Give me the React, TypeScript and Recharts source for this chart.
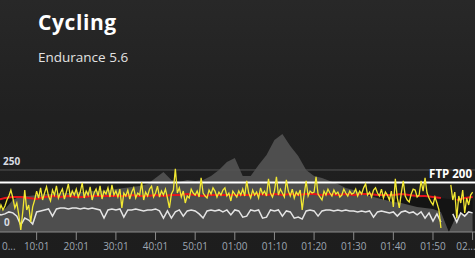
import { ComposedChart, Area, Line, XAxis, YAxis, ReferenceLine } from "recharts";

// power, one value every 30 s
const power = [
  97, 81, 109, 89, 105, 129, 145, 169, 137, 97, 117, 69, 8, 81, 169, 89, 109, 40, 101, 129,
  165, 137, 178, 129, 157, 182, 145, 125, 169, 149, 186, 137, 157, 173, 133, 161, 194, 141, 165, 149,
  173, 141, 161, 198, 137, 165, 149, 182, 129, 157, 173, 145, 186, 133, 165, 153, 178, 141, 190, 149,
  165, 141, 173, 97, 157, 145, 169, 133, 161, 178, 137, 157, 149, 200, 129, 161, 145, 173, 185, 141,
  157, 185, 141, 165, 149, 173, 137, 97, 153, 169, 255, 157, 178, 141, 165, 117, 145, 137, 173, 157,
  149, 165, 141, 218, 157, 145, 137, 169, 153, 178, 165, 141, 161, 149, 169, 178, 145, 157, 125, 165,
  153, 141, 165, 149, 173, 145, 206, 157, 137, 169, 149, 161, 137, 178, 153, 165, 145, 214, 157, 141,
  165, 222, 149, 173, 157, 141, 210, 165, 145, 173, 137, 161, 149, 169, 89, 153, 206, 145, 165, 157,
  161, 222, 153, 141, 129, 165, 149, 173, 157, 145, 169, 153, 161, 141, 149, 173, 157, 145, 165, 153,
  157, 173, 145, 165, 153, 178, 194, 149, 161, 141, 169, 178, 157, 145, 173, 137, 161, 149, 129, 165,
  101, 214, 137, 97, 157, 206, 145, 129, 121, 153, 173, 169, 141, 149, 206, 165, 218, 157, 137, 121,
  109, 141, 117, 89, 16, null, null, null, null, 190, 129, 161, 56, 145, 117, 169, 77, 137, 109, 149, 161,
];

// heart rate, one value per minute
const heartRate = [
  73, 69, 73, 81, 77, 64, 28, 56, 48, 32,
  81, 85, 89, 93, 64, 93, 97, 97, 93, 97,
  97, 93, 97, 93, 97, 93, 89, 56, 89, 93,
  89, 93, 60, 89, 89, 93, 89, 85, 89, 89,
  93, 85, 56, 85, 56, 81, 89, 64, 85, 89,
  85, 73, 56, 85, 89, 85, 89, 81, 89, 69,
  89, 85, 60, 64, 89, 85, 89, 56, 60, 89,
  85, 89, 64, 85, 81, 56, 60, 52, 85, 89,
  85, 64, 85, 89, 89, 85, 89, 85, 89, 85,
  85, 81, 85, 81, 85, 60, 81, 85, 81, 77,
  81, 64, 81, 85, 77, 81, 69, 81, 56, 77,
  44, 73, 40, null, null, 73, 40, 77, 64, 81, 77,
];

// smoothed power, every 2 min
const avgPower = [
  129, 137, 141, 141, 137, 133, 141, 145, 141, 145,
  141, 141, 145, 145, 145, 145, 145, 149, 145, 145,
  149, 145, 149, 149, 153, 149, 145, 149, 149, 149,
  149, 149, 149, 153, 149, 153, 149, 153, 149, 153,
  153, 149, 153, 149, 153, 149, 153, 153, 149, 149,
  149, 153, 149, 145, 145, 141, 137, null, 129, 137, 141,
];

// elevation profile, every 2 min
const elevation = [
  89, 93, 129, 145, 145, 149, 153, 153, 157, 157,
  161, 161, 165, 165, 169, 173, 177, 181, 185, 193,
  218, 242, 210, 202, 210, 206, 210, 226, 250, 282,
  298, 226, 226, 270, 310, 371, 395, 347, 306, 250,
  226, 218, 206, 193, 177, 169, 157, 145, 137, 129,
  121, 117, 109, 101, 97, 93, 81, 0, 69, 73, 77,
];

// cadence shade, every 2 min
const cadence = [
  141, 141, 137, 137, 137, 137, 137, 141, 141, 141,
  141, 141, 141, 141, 141, 141, 141, 145, 141, 141,
  145, 141, 145, 145, 145, 145, 141, 145, 145, 145,
  145, 145, 145, 145, 145, 145, 145, 145, 145, 145,
  145, 145, 145, 145, 141, 141, 141, 141, 137, 137,
  133, 137, 141, 137, 141, 141, 137, 133, 137, 133, 137,
];

const tickMinutes = [0, 10, 20, 30, 40, 50, 60, 70, 80, 90, 100, 110, 120];
const tickLabels = ["0...", "10:01", "20:01", "30:01", "40:01", "50:01", "01:00", "01:10", "01:20", "01:30", "01:40", "01:50", "02..."];

const FTP = 200;
const GRID_TOP = 250;

const toPoints = (values: (number | null)[], step: number) =>
  values.map((v, i) => ({ t: i * step, v }));

const font = "'Open Sans', sans-serif";

function TimeTick(props: any) {
  const { x, y, payload } = props;
  const i = tickMinutes.indexOf(payload.value);
  const last = tickMinutes.length - 1;
  const anchor = i === 0 ? "start" : i === last ? "end" : "middle";
  const dx = i === 0 ? 5 : i === last ? 3 : 0;
  return (
    <text x={x + dx} y={y} dy={8} textAnchor={anchor} fill="#9ea7b3" fontSize={10} fontFamily={font}>
      {tickLabels[i]}
    </text>
  );
}

const note = (extra: any) => ({
  position: "absolute" as const,
  fontWeight: 700,
  fontSize: 10,
  lineHeight: "10px",
  color: "#d8dce2",
  whiteSpace: "nowrap" as const,
  ...extra,
});

export default function App() {
  return (
    <div
      style={{
        position: "fixed",
        left: 0,
        top: 0,
        width: 475,
        height: 258,
        overflow: "hidden",
        background: "linear-gradient(#282828 0%, #202020 45%, #1d1d1d 100%)",
        fontFamily: font,
      }}
    >
      <div style={{ position: "absolute", left: 38, top: 12, fontSize: 21, lineHeight: "21px", fontWeight: 700, color: "#fff", letterSpacing: 0.6 }}>
        Cycling
      </div>
      <div style={{ position: "absolute", left: 38, top: 51, fontSize: 13.5, lineHeight: "13.5px", color: "#e2e2e2" }}>
        Endurance 5.6
      </div>
      <div style={{ position: "absolute", left: -3, top: 0 }}>
        <ComposedChart width={478} height={258} margin={{ top: 100, right: 0, bottom: 0, left: 0 }}>
          <XAxis
            type="number"
            dataKey="t"
            domain={[0, 120.6]}
            ticks={tickMinutes}
            interval={0}
            height={26}
            tickSize={8}
            tick={<TimeTick />}
            tickLine={{ stroke: "#8a8a8a" }}
            axisLine={{ stroke: "#8a8a8a" }}
            allowDataOverflow
          />
          <YAxis hide domain={[0, 532]} />
          <Area data={toPoints(cadence, 2)} dataKey="v" stroke="none" fill="#141414" fillOpacity={1} isAnimationActive={false} />
          <Area data={toPoints(elevation, 2)} dataKey="v" stroke="none" fill="#4e4e4e" fillOpacity={1} isAnimationActive={false} />
          <ReferenceLine y={GRID_TOP} stroke="#555555" />
          <ReferenceLine y={FTP} stroke="#ffffff" strokeWidth={2} />
          <Line data={toPoints(heartRate, 1)} dataKey="v" stroke="#e4e4e4" strokeWidth={1.5} dot={false} isAnimationActive={false} />
          <Line data={toPoints(avgPower, 2)} dataKey="v" stroke="#e3141d" strokeWidth={2} dot={false} isAnimationActive={false} />
          <Line data={toPoints(power, 0.5)} dataKey="v" stroke="#f2e832" strokeWidth={1.3} dot={false} isAnimationActive={false} />
        </ComposedChart>
      </div>
      <div style={note({ left: 3, top: 156 })}>{GRID_TOP}</div>
      <div style={note({ left: 4, top: 217 })}>0</div>
      <div style={note({ right: 3, top: 168, fontSize: 11.5, lineHeight: "11.5px", color: "#fff" })}>FTP {FTP}</div>
    </div>
  );
}
